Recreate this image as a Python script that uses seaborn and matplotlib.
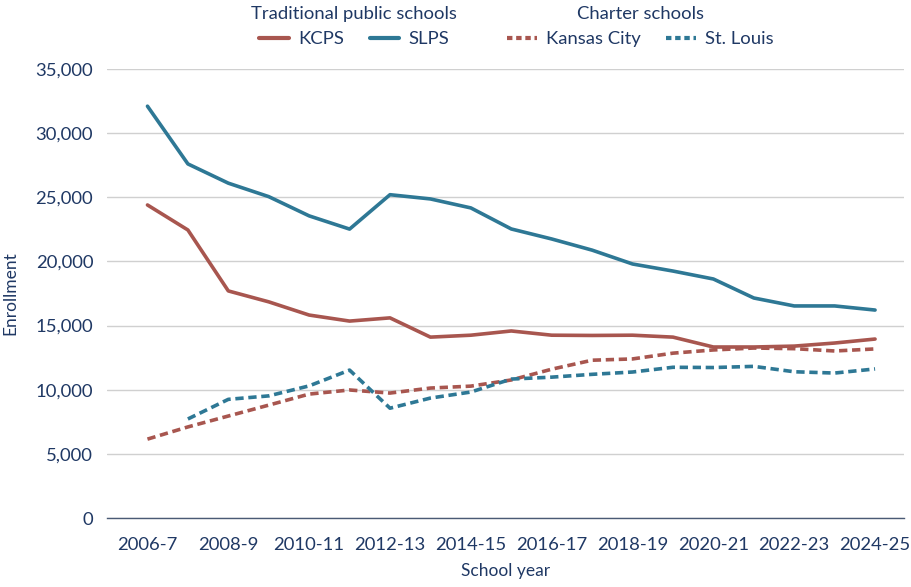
import numpy as np
import pandas as pd
import matplotlib
matplotlib.use("Agg")
import matplotlib.pyplot as plt
import seaborn as sns
from matplotlib.lines import Line2D

years = ["2006-7", "2007-8", "2008-9", "2009-10", "2010-11", "2011-12", "2012-13",
         "2013-14", "2014-15", "2015-16", "2016-17", "2017-18", "2018-19", "2019-20",
         "2020-21", "2021-22", "2022-23", "2023-24", "2024-25"]
kcps = [24400, 22450, 17700, 16850, 15820, 15350, 15600, 14100, 14250, 14580,
        14250, 14230, 14250, 14100, 13330, 13330, 13400, 13640, 13950]
slps = [32100, 27600, 26100, 25050, 23550, 22520, 25200, 24870, 24170, 22530,
        21750, 20880, 19800, 19250, 18630, 17150, 16530, 16530, 16210]
kc_charter = [6150, 7100, 7950, 8800, 9660, 9980, 9740, 10130, 10280, 10760,
              11600, 12300, 12400, 12850, 13100, 13250, 13200, 13020, 13180]
stl_charter = [np.nan, 7720, 9250, 9520, 10300, 11530, 8560, 9350, 9820, 10830,
               10980, 11200, 11380, 11750, 11730, 11820, 11400, 11300, 11620]

series_names = ["KCPS", "SLPS", "Kansas City", "St. Louis"]
red = "#A8564F"
blue = "#2E7895"
text_c = "#1F3864"
palette = {"KCPS": red, "SLPS": blue, "Kansas City": red, "St. Louis": blue}
dashes = {"KCPS": "", "SLPS": "", "Kansas City": (2.3, 1.3), "St. Louis": (2.3, 1.3)}

df = pd.concat([
    pd.DataFrame({"year": years, "enrollment": vals, "series": name})
    for name, vals in zip(series_names, [kcps, slps, kc_charter, stl_charter])
], ignore_index=True)

sns.set_theme(style="white")
plt.rcParams["font.family"] = ["Lato", "DejaVu Sans"]

fig = plt.figure(figsize=(9.11, 5.87), dpi=100)
ax = fig.add_axes([0.1175, 0.1175, 0.875, 0.765])

sns.lineplot(data=df, x="year", y="enrollment", hue="series", style="series",
             palette=palette, dashes=dashes, linewidth=2.6, legend=False, ax=ax,
             sort=False)

ax.set_ylim(0, 35000)
ax.set_xlim(-1.0, 18.72)
ax.set_yticks(np.arange(0, 35001, 5000))
ax.set_yticklabels([f"{v:,}" for v in range(0, 35001, 5000)])
ax.set_xticks(range(0, len(years), 2))
ax.set_xticklabels(years[::2])
ax.yaxis.grid(True, color="#D0D0D0", linewidth=1.0)
ax.set_axisbelow(True)
for s in ["top", "right", "left"]:
    ax.spines[s].set_visible(False)
ax.spines["bottom"].set_color("#4A5A75")
ax.spines["bottom"].set_linewidth(1.0)
ax.tick_params(axis="x", direction="out", length=6, width=1, color="#4A5A75",
               labelsize=13.3, labelcolor=text_c, pad=8)
ax.tick_params(axis="y", length=0, labelsize=13.3, labelcolor=text_c, pad=10)
ax.set_xlabel("School year", fontsize=12.5, color=text_c, labelpad=7)
ax.set_ylabel("Enrollment", fontsize=12.5, color=text_c, labelpad=12)

h1 = [Line2D([], [], color=red, lw=3), Line2D([], [], color=blue, lw=3)]
h2 = [Line2D([], [], color=red, lw=3, dashes=(1.3, 0.9)),
      Line2D([], [], color=blue, lw=3, dashes=(1.3, 0.9))]
leg_kw = dict(ncol=2, frameon=False, fontsize=13.3, title_fontsize=13.3,
              handlelength=1.6, handletextpad=0.5, columnspacing=1.4,
              labelcolor=text_c, loc="upper center")
leg1 = fig.legend(h1, ["KCPS", "SLPS"], title="Traditional public schools",
                  bbox_to_anchor=(0.389, 1.018), **leg_kw)
leg1.get_title().set_color(text_c)
leg2 = fig.legend(h2, ["Kansas City", "St. Louis"], title="Charter schools",
                  bbox_to_anchor=(0.703, 1.018), **leg_kw)
leg2.get_title().set_color(text_c)

fig.savefig("out.png", dpi=100)
